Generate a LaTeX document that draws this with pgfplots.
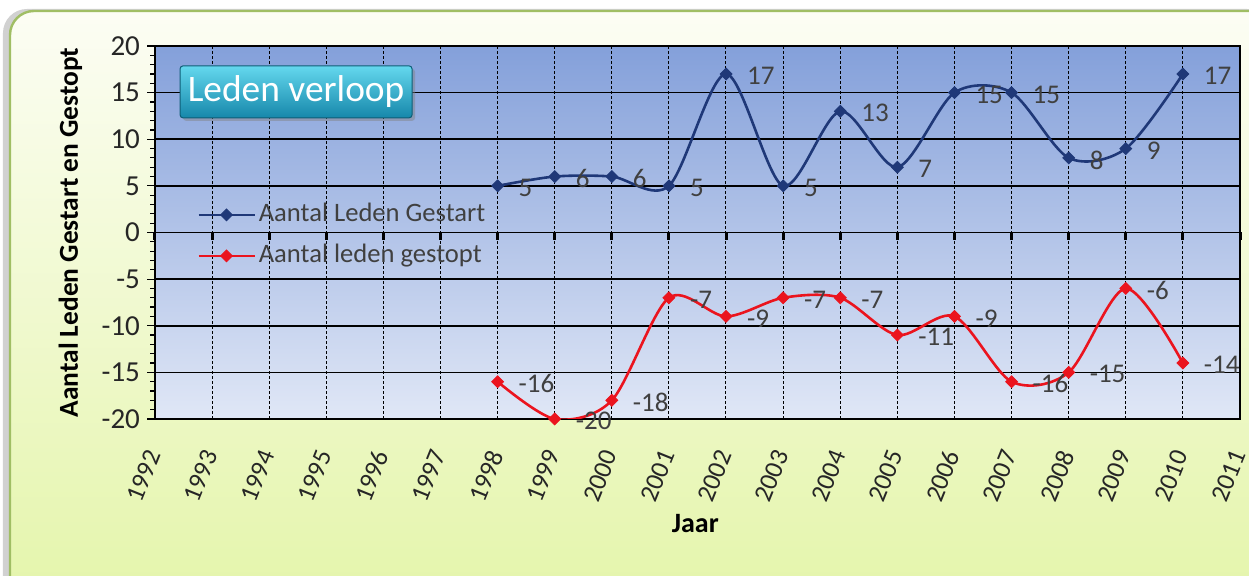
\documentclass[border=0pt]{standalone}
\usepackage{pgfplots}
\pgfplotsset{compat=1.18}
\usepackage{fontspec}
\setmainfont{Carlito}
\usetikzlibrary{shadows}
\definecolor{navy}{RGB}{31,56,120}
\definecolor{sred}{RGB}{235,20,30}
\definecolor{lblgray}{RGB}{64,64,64}
\definecolor{pltop}{RGB}{132,160,218}
\definecolor{plbot}{RGB}{224,231,246}
\definecolor{frametop}{RGB}{252,253,244}
\definecolor{framebot}{RGB}{228,245,170}
\definecolor{framedraw}{RGB}{160,190,100}
\definecolor{titletop}{RGB}{100,216,238}
\definecolor{titlebot}{RGB}{22,135,170}
\begin{document}
\begin{tikzpicture}[x=1pt,y=1pt]
\useasboundingbox (-77.5,-78.5) rectangle (547,209.5);
\fill[white] (-77.5,-78.5) rectangle (547,209.5);
\fill[black!18, rounded corners=12pt] (-76,-96) rectangle (558,205);
\shadedraw[top color=frametop, bottom color=framebot, draw=framedraw, line width=1.2pt, rounded corners=12pt] (-72.5,-95) rectangle (560,204);
\begin{axis}[
  at={(0,0)}, anchor=south west, scale only axis,
  width=542.5pt, height=186.5pt,
  xmin=1992, xmax=2011, ymin=-20, ymax=20,
  xtick={1992,...,2011}, ytick={-20,-15,...,20},
  minor y tick num=4,
  ytick pos=left, xtick pos=bottom, tick align=outside,
  major tick length=4pt, minor tick length=2.5pt,
  major x tick style={draw=none},
  every tick/.style={black, line width=0.6pt},
  xmajorgrids, ymajorgrids,
  y grid style={black, line width=0.8pt},
  x grid style={black, line width=0.5pt, dash pattern=on 1.5pt off 1pt},
  axis line style={black, line width=0.8pt},
  axis background/.style={top color=pltop, bottom color=plbot},
  tick label style={font=\fontsize{14.5}{17}\selectfont, text=black!85},
  /pgf/number format/assume math mode=true,
  /pgf/number format/1000 sep={},
  xticklabel style={font=\fontsize{13}{15}\selectfont, xshift=0.5pt, yshift=-9pt, rotate=68, anchor=east},
  extra y ticks={0}, extra y tick labels={},
  extra y tick style={grid style={black, line width=1.8pt}, major tick length=0pt},
  ylabel={Aantal Leden Gestart en Gestopt},
  ylabel style={font=\bfseries\fontsize{13.7}{16}\selectfont, at={(axis description cs:-0.078,0.5)}, anchor=center},
  xlabel={Jaar},
  xlabel style={font=\bfseries\fontsize{14}{16}\selectfont, at={(axis description cs:0.498,-0.279)}, anchor=center},
  legend style={at={(axis description cs:0.033,0.492)}, anchor=west, draw=none, fill=none,
    font=\fontsize{13.3}{16}\selectfont, text=lblgray, row sep=5pt,
    nodes={text height=9.5pt, text depth=3pt, inner sep=1.5pt}},
  legend cell align=left,
  legend image code/.code={\draw[mark repeat=2, mark phase=2] plot coordinates {(0pt,0pt)(14pt,0pt)(28pt,0pt)};},
  clip mode=individual,
  nodes near coords style={anchor=west, xshift=7pt, yshift=-1pt, font=\fontsize{13.5}{16}\selectfont, text=lblgray},
]
\addplot[navy, line width=1.3pt, smooth, mark=square*, mark size=2.1pt,
  mark options={rotate=45, fill=navy, draw=navy, line width=0.4pt}, nodes near coords]
  coordinates {(1998,5)(1999,6)(2000,6)(2001,5)(2002,17)(2003,5)(2004,13)(2005,7)(2006,15)(2007,15)(2008,8)(2009,9)(2010,17)};
\addlegendentry{Aantal Leden Gestart}
\addplot[sred, line width=1.3pt, smooth, mark=square*, mark size=2.1pt,
  mark options={rotate=45, fill=sred, draw=sred, line width=0.4pt}, nodes near coords]
  coordinates {(1998,-16)(1999,-20)(2000,-18)(2001,-7)(2002,-9)(2003,-7)(2004,-7)(2005,-11)(2006,-9)(2007,-16)(2008,-15)(2009,-6)(2010,-14)};
\addlegendentry{Aantal leden gestopt}
\pgfplotsinvokeforeach{1992,...,2011}{\draw[black, line width=1.5pt] (axis cs:#1,0) -- ([yshift=-4pt]axis cs:#1,0);}
\node[draw=titlebot!70!black, line width=0.5pt, top color=titletop, bottom color=titlebot,
  rounded corners=1.5pt, minimum width=116pt, minimum height=26pt, text=white,
  font=\fontsize{18.7}{22}\selectfont, drop shadow={opacity=0.45, shadow xshift=1.5pt, shadow yshift=-1.5pt}]
  at (axis description cs:0.130,0.877) {Leden verloop};
\end{axis}
\end{tikzpicture}
\end{document}
